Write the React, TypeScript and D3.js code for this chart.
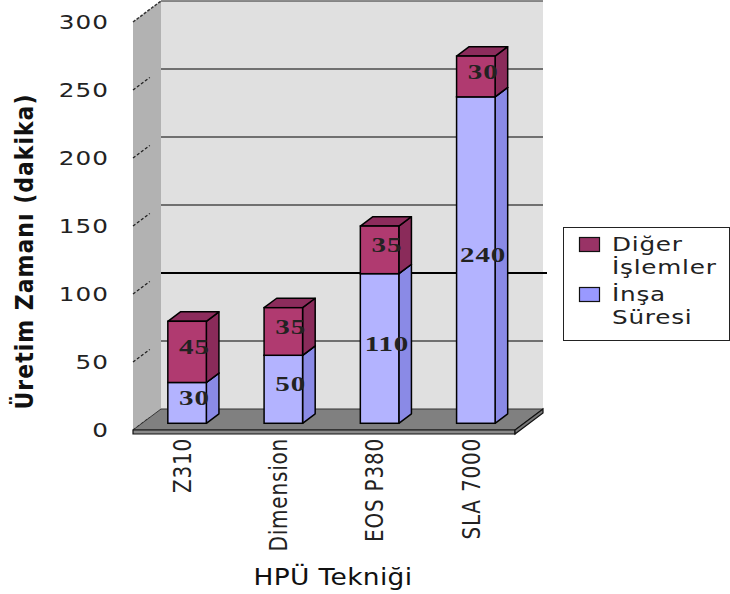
import React from "react";
import * as d3 from "d3";

const categories = ["Z310", "Dimension", "EOS P380", "SLA 7000"];
const insaSuresi = [30, 50, 110, 240];
const digerIslemler = [45, 35, 35, 30];
const yTicks = [0, 50, 100, 150, 200, 250, 300];
const legendItems = [
  { lines: ["Diğer", "İşlemler"], key: "diger" },
  { lines: ["İnşa", "Süresi"], key: "insa" },
];
const yTitle = "Üretim Zamanı (dakika)";
const xTitle = "HPÜ Tekniği";

const W = 730;
const H = 594;
const DX = 28;
const DY = 21;
const FX0 = 133;
const FX1 = 515;
const Z0 = 0.32;
const Z1 = 0.77;
const SX = 1.3;

const colors = {
  diger: { front: "#b03a70", side: "#8a2b5a", top: "#8c2c5c", legend: "#993366" },
  insa: { front: "#b3b3ff", side: "#8a8ae6", top: "#9a9af0", legend: "#9999ff" },
};

export default function App() {
  const y = d3.scaleLinear().domain([0, 300]).range([430, 22]);
  const x = d3.scaleBand<string>().domain(categories).range([130, FX1]).paddingInner(0.6).paddingOuter(0.3);
  const bw = x.bandwidth();
  const px = (xx: number, z: number) => xx + z * DX;
  const py = (yy: number, z: number) => yy - z * DY;

  const pts = (arr: [number, number][]) => arr.map((p) => p.join(",")).join(" ");

  const stacks = categories.map((c, i) => {
    const segs = [
      { key: "insa" as const, v0: 0, v1: insaSuresi[i], val: insaSuresi[i] },
      { key: "diger" as const, v0: insaSuresi[i], v1: insaSuresi[i] + digerIslemler[i], val: digerIslemler[i] },
    ];
    return { c, segs };
  });

  const backR = FX1 + DX;

  return (
    <svg width={W} height={H} style={{ position: "absolute", left: 0, top: 0, background: "#fff" }}>
      {/* back wall */}
      <polygon points={pts([[px(FX0, 1), py(y(300), 1)], [backR, py(y(300), 1)], [backR, py(y(0), 1)], [px(FX0, 1), py(y(0), 1)]])} fill="#e0e0e0" />
      {/* left wall */}
      <polygon points={pts([[FX0, y(300)], [px(FX0, 1), py(y(300), 1)], [px(FX0, 1), py(y(0), 1)], [FX0, y(0)]])} fill="#b2b2b2" />
      <line x1={FX0} y1={y(300)} x2={px(FX0, 1)} y2={py(y(300), 1)} stroke="#333" strokeWidth={1.5} strokeDasharray="3,1.5" />
      <line x1={px(FX0, 1)} y1={py(y(300), 1)} x2={backR} y2={py(y(300), 1)} stroke="#666" strokeWidth={1.5} />
      {/* gridlines */}
      {yTicks.filter((t) => t > 0 && t < 300).map((t) => (
        <line key={t} x1={px(FX0, 1)} y1={py(y(t), 1)} x2={t === 100 ? backR + 4 : backR} y2={py(y(t), 1)} stroke="#000" strokeWidth={t === 100 ? 2 : 1.2} />
      ))}
      {yTicks.filter((t) => t < 300).map((t) => (
        <line key={"lw" + t} x1={FX0} y1={y(t)} x2={px(FX0, 0.6)} y2={py(y(t), 0.6)} stroke="#222" strokeWidth={1.3} strokeDasharray="3,2" />
      ))}
      {/* floor */}
      <polygon points={pts([[FX0, y(0)], [px(FX0, 1), py(y(0), 1)], [backR, py(y(0), 1)], [FX1, y(0)]])} fill="#808080" stroke="#333" strokeWidth={1} />
      <polygon points={pts([[FX0, y(0)], [FX1, y(0)], [FX1, y(0) + 4], [FX0, y(0) + 4]])} fill="#8a8a8a" stroke="#111" strokeWidth={1.2} />
      <polygon points={pts([[FX1, y(0)], [backR, py(y(0), 1)], [backR, py(y(0), 1) + 4], [FX1, y(0) + 4]])} fill="#777" stroke="#111" strokeWidth={1.2} />
      {/* bars */}
      {stacks.map(({ c, segs }) => {
        const xf0 = px(x(c)!, Z0);
        const xf1 = xf0 + bw;
        const dx = (Z1 - Z0) * DX;
        const dy = (Z1 - Z0) * DY;
        return (
          <g key={c}>
            {segs.map((s) => {
              const yb = py(y(s.v0), Z0);
              const yt = py(y(s.v1), Z0);
              const col = colors[s.key];
              return (
                <g key={s.key}>
                  <polygon points={pts([[xf1, yb], [xf1 + dx, yb - dy], [xf1 + dx, yt - dy], [xf1, yt]])} fill={col.side} stroke="#000" strokeWidth={1.5} strokeLinejoin="round" />
                  <polygon points={pts([[xf0, yt], [xf0 + dx, yt - dy], [xf1 + dx, yt - dy], [xf1, yt]])} fill={col.top} stroke="#000" strokeWidth={1.5} strokeLinejoin="round" />
                  <rect x={xf0} y={yt} width={bw} height={yb - yt} fill={col.front} stroke="#000" strokeWidth={1.5} />
                </g>
              );
            })}
            {segs.map((s) => {
              const yb = py(y(s.v0), Z0);
              const yt = py(y(s.v1), Z0);
              const cx = xf0 + bw / 2 + dx / 2;
              const cy = (yb + yt) / 2 - dy / 2;
              return (
                <text key={"l" + s.key} transform={`translate(${cx + 1},${cy}) scale(1.45,1)`} dominantBaseline="central" textAnchor="middle" fontFamily="Liberation Serif" fontWeight="bold" fontSize={20} letterSpacing={0.6} fill="#222">
                  {s.val}
                </text>
              );
            })}
          </g>
        );
      })}
      {/* y tick labels */}
      {yTicks.map((t) => (
        <text key={"yt" + t} transform={`translate(109,${y(t) + 7}) scale(${SX},1)`} textAnchor="end" fontFamily="DejaVu Sans" fontSize={19} letterSpacing={0.8} fill="#222">
          {t}
        </text>
      ))}
      {/* y title */}
      <text transform={`translate(33,252) rotate(-90) scale(1,1.1)`} textAnchor="middle" fontFamily="DejaVu Sans" fontWeight="bold" fontSize={22} textLength={315} lengthAdjust="spacing" fill="#111">
        {yTitle}
      </text>
      {/* x labels */}
      {categories.map((c) => (
        <text key={"xl" + c} transform={`translate(${x(c)! + bw / 2 + 4},${438}) rotate(-90) scale(1,1.2)`} textAnchor="end" dominantBaseline="central" fontFamily="DejaVu Sans" fontSize={20} letterSpacing={0.8} fill="#222">
          {c}
        </text>
      ))}
      <text transform={`translate(333,585) scale(1.15,1)`} textAnchor="middle" fontFamily="DejaVu Sans" fontSize={23} letterSpacing={0.3} fill="#111">
        {xTitle}
      </text>
      {/* legend */}
      <rect x={563.5} y={227.5} width={166} height={113} fill="#fff" stroke="#222" strokeWidth={1} />
      {legendItems.map((it, i) => (
        <g key={it.key}>
          <rect x={579.5} y={237.5 + i * 50} width={20} height={14} fill={colors[it.key as "diger" | "insa"].legend} stroke="#111" strokeWidth={1.2} />
          {it.lines.map((ln, j) => (
            <text key={j} transform={`translate(612,${251 + i * 50 + j * 23}) scale(1.3,1)`} fontFamily="DejaVu Sans" fontSize={19} letterSpacing={0.6} fill="#222">
              {ln}
            </text>
          ))}
        </g>
      ))}
    </svg>
  );
}
